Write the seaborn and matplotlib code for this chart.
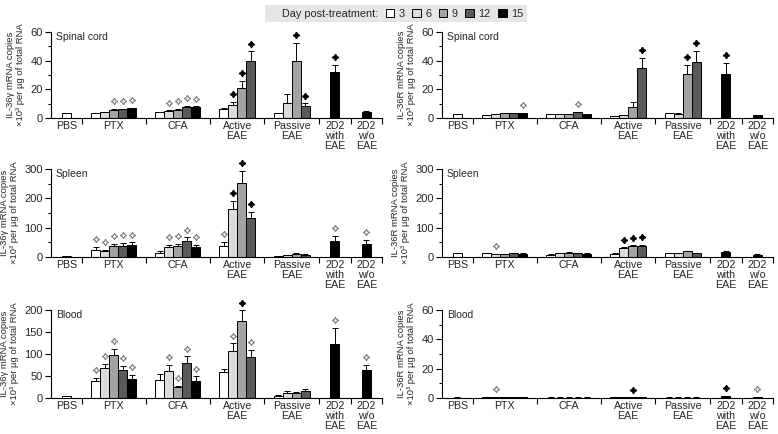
import matplotlib
matplotlib.use("Agg")
import matplotlib.pyplot as plt
import matplotlib.transforms as mtransforms
from matplotlib.patches import Patch
from matplotlib.ticker import MultipleLocator
import numpy as np
import pandas as pd
import seaborn as sns

sns.set_theme(style="ticks")
plt.rcParams["font.family"] = ["Liberation Sans", "DejaVu Sans"]

# ── Data ────────────────────────────────────────────────────────────────────
GROUPS = ["PBS", "PTX", "CFA", "Active\nEAE", "Passive\nEAE",
          "2D2\nwith\nEAE", "2D2\nw/o\nEAE"]
GROUP_DAYS = [[3], [3, 6, 9, 12, 15], [3, 6, 9, 12, 15], [3, 6, 9, 12],
              [3, 6, 9, 12], [15], [15]]
DAYS = [3, 6, 9, 12, 15]

# marks: "o" = open star, "f" = filled star
SC_G_MEAN = [3.5, 3.5, 4.2, 5.8, 6.0, 6.8, 4.0, 5.0, 5.8, 8.0, 7.7,
             6.3, 9.1, 21, 40, 3.5, 10.5, 40, 8.4, 32, 4.5]
SC_G_ERR = [0.3, 0.3, 0.3, 0.4, 0.3, 0.5, 0.4, 0.3, 0.4, 0.4, 0.4,
            0.4, 2.3, 5, 6.5, 0.3, 6, 12.5, 1.9, 5, 0.3]
SC_G_SIG = ["", "", "", "o", "o", "o", "", "o", "o", "o", "o",
            "", "f", "f", "f", "", "", "f", "f", "f", ""]

SC_R_MEAN = [2.5, 2.1, 2.8, 3.3, 3.3, 3.5, 2.8, 2.8, 2.8, 4.0, 2.8,
             1.2, 2.1, 8.0, 35, 3.3, 2.8, 30.4, 39, 30.4, 2.1]
SC_R_ERR = [0.3, 0.3, 0.3, 0.3, 0.3, 0.3, 0.3, 0.2, 0.2, 0.4, 0.3,
            0.2, 0.3, 3.2, 7, 0.3, 0.4, 6.6, 8, 7.9, 0.3]
SC_R_SIG = ["", "", "", "", "", "o", "", "", "", "o", "",
            "", "", "", "f", "", "", "f", "f", "f", ""]

SP_G_MEAN = [3, 25, 21.6, 36, 38.6, 42, 13.6, 33, 38.6, 53, 33,
             38.6, 164, 252, 133, 2.3, 5.7, 10, 8, 56, 44]
SP_G_ERR = [1, 9, 3.4, 10, 10.4, 8, 8, 8, 6.4, 14, 8,
            12.4, 28, 42, 22, 0.5, 1, 2, 1.5, 16, 14]
SP_G_SIG = ["", "o", "o", "o", "o", "o", "", "o", "o", "o", "o",
            "o", "f", "f", "f", "", "", "", "", "o", "o"]

SP_R_MEAN = [12, 12.5, 10, 9, 12.5, 11, 8, 12.5, 15, 13.6, 11,
             11, 30, 36, 36, 13, 12, 19, 13, 17, 8]
SP_R_ERR = [1, 1, 1, 1, 1, 1, 1, 1, 1, 1, 1,
            1, 3, 4, 5, 1, 1, 1.5, 1, 4, 1]
SP_R_SIG = ["", "", "o", "", "", "", "", "", "", "", "",
            "", "f", "f", "f", "", "", "", "", "", ""]

BL_G_MEAN = [5, 39, 69, 97, 63, 44, 40, 61, 24, 79, 39,
             60, 106, 174, 93, 5, 12, 10.5, 15, 123, 63]
BL_G_ERR = [0.5, 7, 9, 15, 10, 8, 15, 15, 4, 16, 10,
            7, 18, 25, 16, 1, 4.5, 2.5, 4.5, 37, 12]
BL_G_SIG = ["", "o", "o", "o", "o", "o", "", "o", "o", "o", "o",
            "", "o", "f", "o", "", "", "", "", "o", "o"]

BL_R_MEAN = [0.3, 0.5, 0.8, 0.8, 0.6, 0.6, 0.3, 0.3, 0.3, 0.3, 0.3,
             0.4, 0.4, 0.4, 0.4, 0.3, 0.3, 0.3, 0.3, 1.2, 0.8]
BL_R_ERR = [0.1, 0.1, 0.2, 0.2, 0.1, 0.1, 0.1, 0.1, 0.1, 0.1, 0.1,
            0.1, 0.1, 0.1, 0.1, 0.1, 0.1, 0.1, 0.1, 0.5, 0.2]
BL_R_SIG = ["", "", "o", "", "", "", "", "", "", "", "",
            "", "", "f", "", "", "", "", "", "f", "o"]

# ── Style / layout ──────────────────────────────────────────────────────────
DAY_COLORS = {"3": "#ffffff", "6": "#dcdcdc", "9": "#a3a3a3",
              "12": "#5a5a5a", "15": "#000000"}
GROUP_EDGES = [0, 3.4, 10.5, 17.7, 23.7, 29.8, 33.3, 36.8]
W, H = 778, 434
LABEL_G = "IL-36γ mRNA copies\n×10³ per µg of total RNA"
LABEL_R = "IL-36R mRNA copies\n×10³ per µg of total RNA"

PANELS = [
    # (mean, err, sig, tissue, ylabel, ymax, major, minor, col, row)
    (SC_G_MEAN, SC_G_ERR, SC_G_SIG, "Spinal cord", LABEL_G, 60, 20, 10, 0, 0),
    (SC_R_MEAN, SC_R_ERR, SC_R_SIG, "Spinal cord", LABEL_R, 60, 20, 10, 1, 0),
    (SP_G_MEAN, SP_G_ERR, SP_G_SIG, "Spleen", LABEL_G, 300, 100, 50, 0, 1),
    (SP_R_MEAN, SP_R_ERR, SP_R_SIG, "Spleen", LABEL_R, 300, 100, 50, 1, 1),
    (BL_G_MEAN, BL_G_ERR, BL_G_SIG, "Blood", LABEL_G, 200, 50, None, 0, 2),
    (BL_R_MEAN, BL_R_ERR, BL_R_SIG, "Blood", LABEL_R, 60, 20, 10, 1, 2),
]
AX_LEFT = [51, 442]
AX_ZERO = [118, 257, 398]
AX_TOP = [32, 169, 310]


def bar_positions():
    xs, days = [], []
    for g, dlist in enumerate(GROUP_DAYS):
        center = (GROUP_EDGES[g] + GROUP_EDGES[g + 1]) / 2
        n = len(dlist)
        for i, d in enumerate(dlist):
            xs.append(round(center + i - (n - 1) / 2, 3))
            days.append(str(d))
    return np.array(xs), days


fig = plt.figure(figsize=(W / 100, H / 100), dpi=100)
xs, day_str = bar_positions()
centers = [(GROUP_EDGES[i] + GROUP_EDGES[i + 1]) / 2 for i in range(len(GROUPS))]
ax_w = GROUP_EDGES[-1] * 9 / W

for mean, err, sig, tissue, ylabel, ymax, major, minor, col, row in PANELS:
    ax = fig.add_axes([AX_LEFT[col] / W, 1 - AX_ZERO[row] / H, ax_w,
                       (AX_ZERO[row] - AX_TOP[row]) / H])
    df = pd.DataFrame({"x": xs, "val": mean, "day": day_str})
    sns.barplot(data=df, x="x", y="val", hue="day",
                hue_order=[str(d) for d in DAYS], palette=DAY_COLORS,
                native_scale=True, dodge=False, width=1.0, errorbar=None,
                edgecolor="black", linewidth=0.7, legend=False, orient="x",
                ax=ax)
    mean = np.asarray(mean, dtype=float)
    err = np.asarray(err, dtype=float)
    ax.errorbar(xs, mean, yerr=[np.zeros_like(err), err], fmt="none",
                ecolor="black", elinewidth=0.7, capsize=2, capthick=0.7)

    # significance stars just above error bars
    trans = mtransforms.offset_copy(ax.transData, fig=fig, y=5.5, units="points")
    for x, m, e, s in zip(xs, mean, err, sig):
        if s == "f":
            ax.plot(x, m + e, marker=(4, 1, 0), ms=4.6, color="black",
                    transform=trans, clip_on=False)
        elif s == "o":
            ax.plot(x, m + e, marker=(4, 1, 0), ms=4.6, mfc="white",
                    mec="#7a7a7a", mew=0.8, transform=trans, clip_on=False)

    ax.set_xlim(GROUP_EDGES[0], GROUP_EDGES[-1])
    ax.set_ylim(0, ymax)
    ax.set_xticks(GROUP_EDGES[1:])
    ax.set_xticklabels([])
    ax.set_xticks(centers, minor=True)
    ax.set_xticklabels(GROUPS, minor=True, fontsize=7.7, linespacing=0.95)
    ax.tick_params(axis="x", which="major", length=4, width=0.8,
                   direction="out", color="black")
    ax.tick_params(axis="x", which="minor", length=0, pad=2.5)
    ax.yaxis.set_major_locator(MultipleLocator(major))
    if minor:
        ax.yaxis.set_minor_locator(MultipleLocator(minor))
    ax.tick_params(axis="y", which="major", length=4, width=0.8,
                   labelsize=8, pad=2, color="black")
    ax.tick_params(axis="y", which="minor", length=2.5, width=0.8,
                   color="black")
    ax.set_xlabel("")
    ax.set_ylabel(ylabel, fontsize=6.8, linespacing=1.1, labelpad=4)
    ax.text(0.015, 1.0, tissue, transform=ax.transAxes, fontsize=7.5,
            va="top", ha="left")
    sns.despine(ax=ax)
    for sp in ("left", "bottom"):
        ax.spines[sp].set_linewidth(0.8)
        ax.spines[sp].set_color("black")

handles = [Patch(visible=False, label="Day post-treatment:")]
handles += [Patch(facecolor=DAY_COLORS[str(d)], edgecolor="black",
                  linewidth=0.7, label=str(d)) for d in DAYS]
fig.legend(handles=handles, ncol=6, loc="upper center",
           bbox_to_anchor=(396 / W, 1.0), frameon=True, fancybox=False,
           facecolor="#e6e6e6", edgecolor="none", framealpha=1,
           fontsize=7.8, handlelength=0.8, handleheight=0.8,
           handletextpad=0.4, columnspacing=0.7, borderpad=0.3)

fig.savefig("out.png", dpi=100)
